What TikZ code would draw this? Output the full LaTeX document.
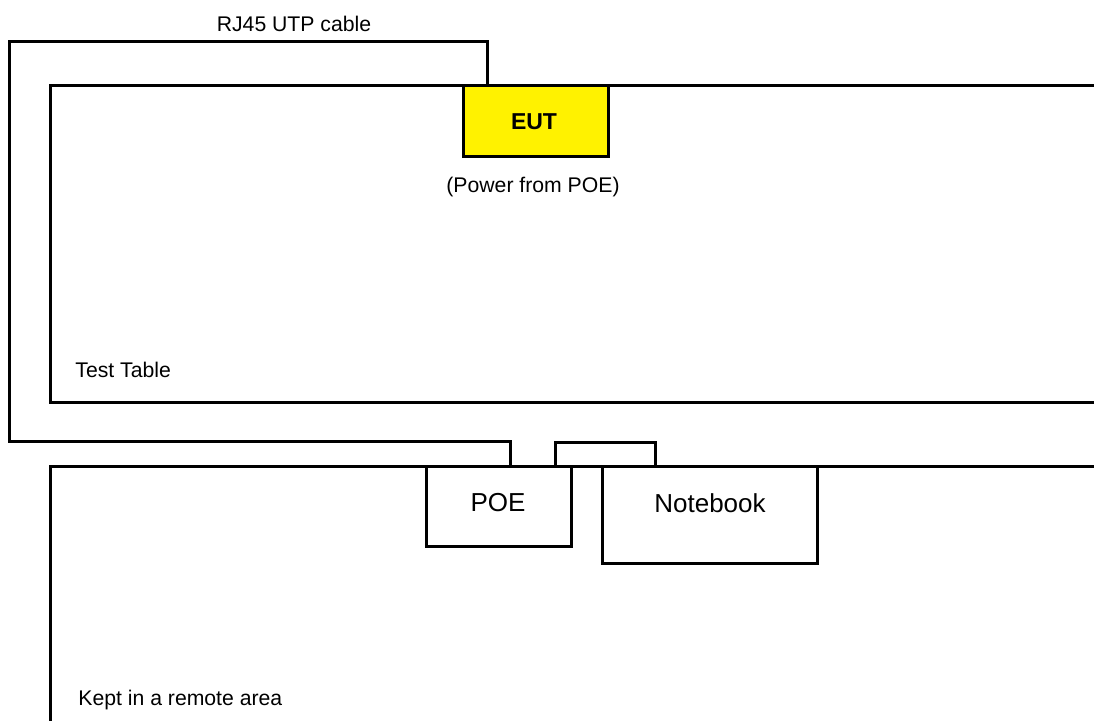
\documentclass[tikz,border=0pt]{standalone}
\usepackage{fontspec}
\setmainfont{Liberation Sans}
\usetikzlibrary{calc}
\begin{document}
\begin{tikzpicture}[x=0.5pt,y=-0.5pt,
  wire/.style={line width=1.5pt,line cap=rect},
  box/.style={draw,line width=1.5pt,inner sep=0pt,rectangle},
  lbl/.style={font=\fontsize{10.6pt}{12pt}\selectfont,inner sep=0pt},
  big/.style={font=\fontsize{13pt}{15pt}\selectfont,inner sep=0pt}]
\useasboundingbox (0,0) rectangle (1094,720);
% test table
\draw[wire] (1100,85) -- (50,85) -- (50,402) -- (1100,402);
% remote area
\draw[wire] (1100,466) -- (50,466) -- (50,730);
% devices
\node[box,fill=yellow,minimum width=72.5pt,minimum height=35.5pt] (eut) at (535.5,120.5) {};
\node[font=\bfseries\fontsize{11.5pt}{13pt}\selectfont,inner sep=0pt] (eutt) at (534,122) {EUT};
\node[lbl] (pwr) at (533,187) {(Power from POE)};
\node[box,fill=white,minimum width=72.5pt,minimum height=40pt] (poe) at (498.5,506) {};
\node[big] (poet) at (498,503) {POE};
\node[box,fill=white,minimum width=107.5pt,minimum height=48.5pt] (nb) at (709.5,514.5) {};
\node[big] (nbt) at (710,503) {Notebook};
% cable coordinates
\coordinate (a) at (487,85);
\coordinate (b) at (510,466);
\coordinate (c) at (555,466);
\coordinate (d) at (655,466);
\draw[wire] (a) -- (487,41) -- (9,41) -- (9,441) -- (510,441) -- (b);
\draw[wire] (c) -- (555,442) -- (655,442) -- (d);
% labels
\node[lbl] (rj) at (294,24) {RJ45 UTP cable};
\node[lbl,anchor=west] (tt) at (75,370) {Test Table};
\node[lbl,anchor=west] (ka) at (78,700) {Kept in a remote area};
\end{tikzpicture}
\end{document}
